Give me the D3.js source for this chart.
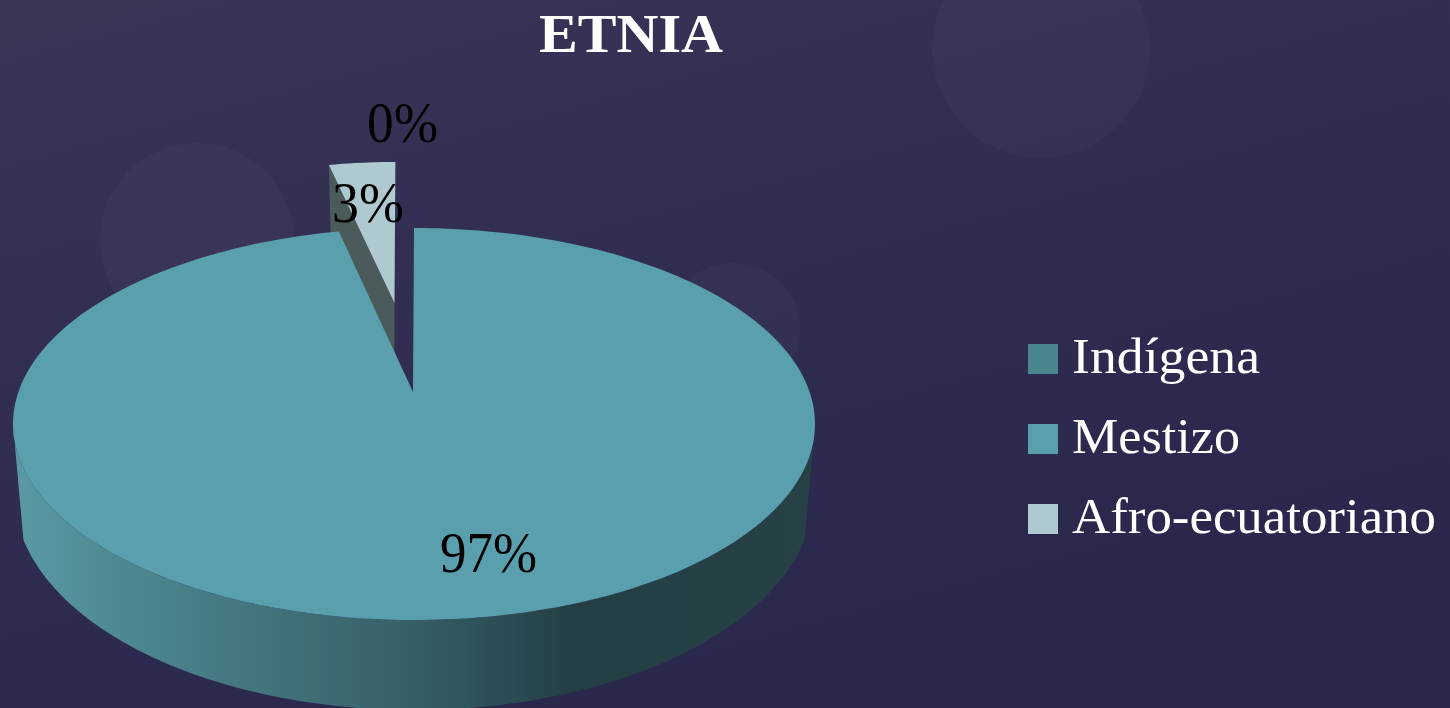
<!DOCTYPE html>
<meta charset="utf-8">
<style>
  html, body { margin: 0; padding: 0; background: #2b284e; overflow: hidden; }
  text { font-family: "Liberation Serif", serif; }
</style>
<script src="https://d3js.org/d3.v7.min.js"></script>
<div id="chart"></div>
<script>
// data
var categories = ["Indígena", "Mestizo", "Afro-ecuatoriano"];
var values = [0, 97, 3];
var legendColors = ["#4a858f", "#599fad", "#afc9d1"];
var title = "ETNIA";

var width = 1450, height = 708;

var svg = d3.select("#chart").append("svg")
  .attr("width", width)
  .attr("height", height)
  .style("display", "block");

var defs = svg.append("defs");

var bg = defs.append("linearGradient")
  .attr("id", "bg")
  .attr("x1", "0%").attr("y1", "0%")
  .attr("x2", "55%").attr("y2", "100%");
bg.append("stop").attr("offset", "0%").attr("stop-color", "#3b3556");
bg.append("stop").attr("offset", "45%").attr("stop-color", "#312d53");
bg.append("stop").attr("offset", "100%").attr("stop-color", "#29274c");

// shading of the pie wall, left to right
var wall = defs.append("linearGradient")
  .attr("id", "wall")
  .attr("gradientUnits", "userSpaceOnUse")
  .attr("x1", 13).attr("y1", 0)
  .attr("x2", 815).attr("y2", 0);
[[0, "#5a99a5"], [0.12, "#4f8a94"], [0.33, "#417279"], [0.47, "#39626b"], [0.62, "#2a4c53"], [0.7, "#233f45"], [1, "#274146"]]
  .forEach(function(s) {
    wall.append("stop").attr("offset", s[0]).attr("stop-color", s[1]);
  });

svg.append("rect")
  .attr("width", width)
  .attr("height", height)
  .attr("fill", "url(#bg)");

// faint circles of the slide theme
svg.append("g")
  .selectAll("circle")
  .data([[1041, 49, 109], [197, 240, 97], [733, 330, 67]])
  .enter().append("circle")
  .attr("cx", function(d) { return d[0]; })
  .attr("cy", function(d) { return d[1]; })
  .attr("r", function(d) { return d[2]; })
  .attr("fill", "#ffffff")
  .attr("fill-opacity", 0.028);

// pie geometry: top ellipse, and its hub, which sits above the centre (perspective)
var top_ = { cx: 414, cy: 424, rx: 401, ry: 196 };
var bottom = { cx: 414, cy: 493, rx: 400, ry: 217 };
var bottomSweep = 102.5 * Math.PI / 180; // where the wall sides meet the lower curve
var hub = { x: 413, y: 392 };
var exploded = { x: 394.5, y: 303, sx: 0.885, sy: 0.86 };

var pie = d3.pie().sort(null).value(function(d) { return d; });
var arcs = pie(values);
var line = d3.line();

function angles(a0, a1) {
  var n = Math.max(2, Math.ceil(Math.abs(a1 - a0) / 0.02));
  return d3.range(n + 1).map(function(i) { return a0 + (a1 - a0) * i / n; });
}

function onEllipse(e, a) {
  return [e.cx + e.rx * Math.sin(a), e.cy - e.ry * Math.cos(a)];
}

// side wall, front half of the pie
var wallPts = angles(Math.PI / 2, Math.PI * 1.5).map(function(a) { return onEllipse(top_, a); })
  .concat(angles(Math.PI * 2 - bottomSweep, bottomSweep).map(function(a) { return onEllipse(bottom, a); }));

svg.append("path")
  .attr("d", line(wallPts) + "Z")
  .attr("fill", "url(#wall)");

// exploded slice: arc points measured from the hub, then scaled and moved
var afro = arcs[2];
function afroPoint(a) {
  var p = onEllipse(top_, a);
  return [exploded.x + (p[0] - hub.x) * exploded.sx, exploded.y + (p[1] - hub.y) * exploded.sy];
}
var afroCorner = afroPoint(afro.startAngle);

// cut face of the slice, its lower part is hidden by the big slice
svg.append("path")
  .attr("d", line([
    afroCorner,
    [exploded.x, exploded.y],
    [exploded.x, exploded.y + 60],
    [afroCorner[0] + 2, afroCorner[1] + 80]
  ]) + "Z")
  .attr("fill", "#4b5a5a");

svg.append("path")
  .attr("d", line(angles(afro.startAngle, afro.endAngle).map(afroPoint)
    .concat([[exploded.x, exploded.y]])) + "Z")
  .attr("fill", legendColors[2]);

// big slice
var mestizo = arcs[1];
svg.append("path")
  .attr("d", line([[hub.x, hub.y]]
    .concat(angles(mestizo.startAngle, mestizo.endAngle).map(function(a) { return onEllipse(top_, a); }))) + "Z")
  .attr("fill", legendColors[1]);

// title
svg.append("text")
  .attr("x", 631)
  .attr("y", 52)
  .attr("text-anchor", "middle")
  .attr("font-size", 54)
  .attr("font-weight", "bold")
  .attr("fill", "#ffffff")
  .attr("textLength", 184)
  .attr("lengthAdjust", "spacingAndGlyphs")
  .text(title);

// value labels
var labelPos = [[367, 142, 71], [332, 222, 72], [440, 572, 97]];
var labelOrder = [0, 2, 1];
labelOrder.forEach(function(i, k) {
  var pos = labelPos[k];
  svg.append("text")
    .attr("x", pos[0])
    .attr("y", pos[1])
    .attr("font-size", 58)
    .attr("fill", "#000000")
    .attr("textLength", pos[2])
    .attr("lengthAdjust", "spacingAndGlyphs")
    .text(values[i] + "%");
});

// legend
var legendY = d3.scalePoint()
  .domain(categories)
  .range([344, 504]);
var legendWidths = [188, 168, 364];

var legend = svg.append("g")
  .selectAll("g")
  .data(categories)
  .enter().append("g")
  .attr("transform", function(d) { return "translate(1028," + legendY(d) + ")"; });

legend.append("rect")
  .attr("width", 30)
  .attr("height", 30)
  .attr("fill", function(d, i) { return legendColors[i]; });

legend.append("text")
  .attr("x", 44)
  .attr("y", 29)
  .attr("font-size", 50)
  .attr("fill", "#ffffff")
  .attr("textLength", function(d, i) { return legendWidths[i]; })
  .attr("lengthAdjust", "spacingAndGlyphs")
  .text(function(d) { return d; });
</script>
